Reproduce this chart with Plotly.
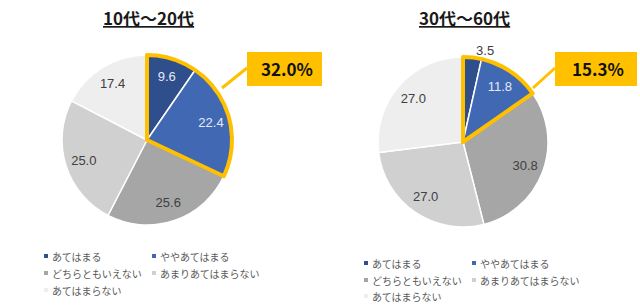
import plotly.graph_objects as go

labels = ["あてはまる", "ややあてはまる", "どちらともいえない", "あまりあてはまらない", "あてはまらない"]
young_values = [9.6, 22.4, 25.6, 25.0, 17.4]
older_values = [3.5, 11.8, 30.8, 27.0, 27.0]
titles = ["10代～20代", "30代～60代"]
colors = ["#2E4E8C", "#4169B3", "#A6A6A6", "#D0D0D0", "#EEEEEE"]
text_colors = ["#E3EAF6", "#E3EAF6", "#404040", "#404040", "#404040"]
YELLOW = "#FFC000"
W, H = 640, 306

def px(x):
    return x / W

def py(y):
    return 1 - y / H

# pie geometry in pixels (center x, center y, radius)
pies = [
    dict(values=young_values, cx=147, cy=140, r=85, textpos=["inside"] * 5,
         legend=dict(x0=44, x1=152, y=[256, 273, 290]),
         box=dict(x0=247, x1=322, y0=52, y1=86), line=((247, 68), (222, 88))),
    dict(values=older_values, cx=463, cy=142, r=85,
         textpos=["outside", "inside", "inside", "inside", "inside"],
         legend=dict(x0=364, x1=472, y=[263, 280, 296]),
         box=dict(x0=555, x1=637, y0=52, y1=86), line=((555, 68), (533, 88))),
]

fig = go.Figure()
shapes = []
annotations = []

for i, p in enumerate(pies):
    dom = dict(x=[px(p["cx"] - p["r"]), px(p["cx"] + p["r"])],
               y=[py(p["cy"] + p["r"]), py(p["cy"] - p["r"])])
    tcols = list(text_colors)
    if p["textpos"][0] == "outside":
        tcols[0] = "#404040"
    # filled slices
    fig.add_trace(go.Pie(
        labels=labels, values=p["values"], sort=False, direction="clockwise",
        rotation=0, domain=dom,
        marker=dict(colors=colors, line=dict(color="white", width=1.5)),
        textinfo="none", hoverinfo="label+value", showlegend=False,
    ))
    # value labels placed in an outer ring (transparent donut)
    fig.add_trace(go.Pie(
        labels=labels, values=p["values"], sort=False, direction="clockwise",
        rotation=0, domain=dom, hole=0.56,
        marker=dict(colors=["rgba(0,0,0,0)"] * 5, line=dict(width=0)),
        texttemplate="%{value:.1f}", textposition=p["textpos"],
        insidetextorientation="horizontal",
        textfont=dict(family="Liberation Sans, Arial, sans-serif", size=13, color=tcols),
        hoverinfo="skip", showlegend=False,
    ))
    # highlight outline around the first two categories
    hi = p["values"][0] + p["values"][1]
    rest = sum(p["values"]) - hi
    fig.add_trace(go.Pie(
        labels=["hi", "rest"], values=[hi, rest], sort=False, direction="clockwise",
        rotation=0, domain=dom,
        marker=dict(colors=["rgba(0,0,0,0)", "rgba(0,0,0,0)"],
                    line=dict(color=[YELLOW, "rgba(0,0,0,0)"], width=[4, 0])),
        textinfo="none", hoverinfo="skip", showlegend=False,
    ))
    # title
    annotations.append(dict(
        x=px(p["cx"] + 1), y=py(17), xref="paper", yref="paper",
        text=f"<b><u>{titles[i]}</u></b>", showarrow=False,
        font=dict(family="Noto Sans CJK JP", size=17, color="#1a1a1a"),
        xanchor="center", yanchor="middle"))
    # callout box
    b = p["box"]
    shapes.append(dict(type="rect", xref="paper", yref="paper",
                       x0=px(b["x0"]), x1=px(b["x1"]), y0=py(b["y1"]), y1=py(b["y0"]),
                       fillcolor=YELLOW, line=dict(width=0), layer="above"))
    (lx0, ly0), (lx1, ly1) = p["line"]
    shapes.append(dict(type="line", xref="paper", yref="paper",
                       x0=px(lx0), y0=py(ly0), x1=px(lx1), y1=py(ly1),
                       line=dict(color=YELLOW, width=3), layer="above"))
    annotations.append(dict(
        x=px((b["x0"] + b["x1"]) / 2 + 2), y=py((b["y0"] + b["y1"]) / 2),
        xref="paper", yref="paper", text=f"<b>{hi:.1f}%</b>", showarrow=False,
        font=dict(family="Noto Sans CJK JP", size=17, color="#111111"),
        xanchor="center", yanchor="middle"))
    # legend
    lg = p["legend"]
    for k, lab in enumerate(labels):
        row, col = divmod(k, 2)
        x = lg["x0"] if col == 0 else lg["x1"]
        y = lg["y"][row]
        shapes.append(dict(type="rect", xref="paper", yref="paper",
                           x0=px(x), x1=px(x + 4), y0=py(y + 2), y1=py(y - 2),
                           fillcolor=colors[k], line=dict(width=0)))
        annotations.append(dict(
            x=px(x + 6), y=py(y), xref="paper", yref="paper", text=lab,
            showarrow=False, xanchor="left", yanchor="middle",
            font=dict(family="Noto Sans CJK JP", size=10, color="#595959")))

fig.update_layout(
    width=W, height=H, margin=dict(l=0, r=0, t=0, b=0),
    paper_bgcolor="white", plot_bgcolor="white",
    shapes=shapes, annotations=annotations,
)
fig.write_html("out.html")
